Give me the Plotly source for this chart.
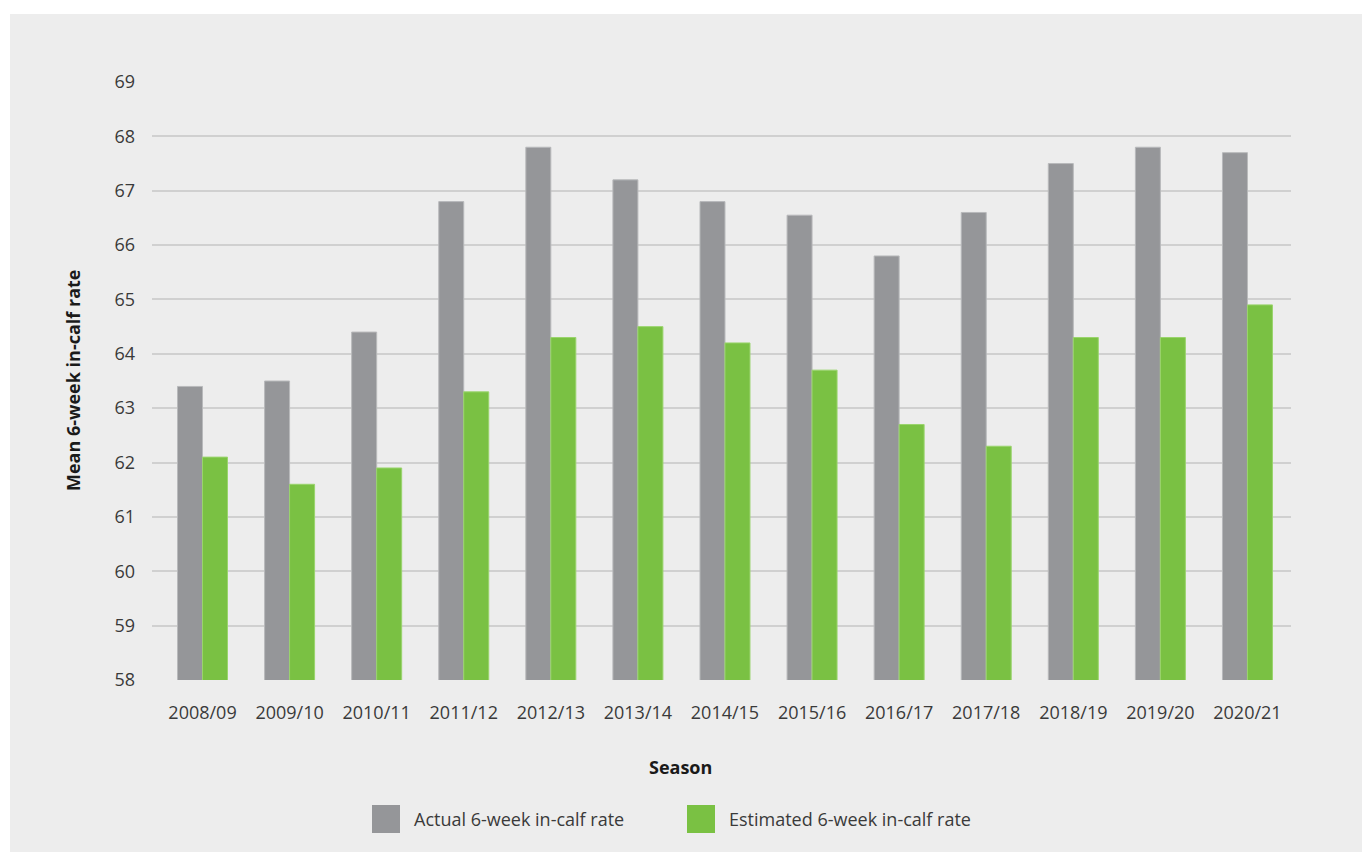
import plotly.graph_objects as go

seasons = ["2008/09", "2009/10", "2010/11", "2011/12", "2012/13", "2013/14", "2014/15",
           "2015/16", "2016/17", "2017/18", "2018/19", "2019/20", "2020/21"]
actual = [63.4, 63.5, 64.4, 66.8, 67.8, 67.2, 66.8, 66.55, 65.8, 66.6, 67.5, 67.8, 67.7]
estimated = [62.1, 61.6, 61.9, 63.3, 64.3, 64.5, 64.2, 63.7, 62.7, 62.3, 64.3, 64.3, 64.9]
series_names = ["Actual 6-week in-calf rate", "Estimated 6-week in-calf rate"]
y_ticks = list(range(58, 70))

GRAY = "#959699"
GREEN = "#7ac143"
BG = "#ededed"
TXT = "#3a3a3a"
FONT = "Open Sans"

OFF = 8  # page body margin
W, H = 1370 - OFF, 852 - OFF
ML, MR, MT, MB = 152 - OFF, 79, 82 - OFF, 172
PW, PH = W - ML - MR, H - MT - MB


def px_x(x):
    # screen x -> paper
    return (x - OFF - ML) / PW


def px_y(y):
    # screen y -> paper
    return (H - MB - (y - OFF)) / PH


fig = go.Figure()
fig.add_trace(go.Bar(x=seasons, y=actual, name=series_names[0], showlegend=False,
                     marker=dict(color=GRAY, line=dict(color="#b8b9bb", width=1))))
fig.add_trace(go.Bar(x=seasons, y=estimated, name=series_names[1], showlegend=False,
                     marker=dict(color=GREEN, line=dict(color="#9ad46c", width=1))))

shapes = [
    # white page margins outside the grey panel
    dict(type="rect", xref="paper", yref="paper", x0=px_x(0), x1=px_x(10), y0=px_y(900), y1=px_y(0),
         fillcolor="white", line=dict(width=0), layer="above"),
    dict(type="rect", xref="paper", yref="paper", x0=px_x(0), x1=px_x(1400), y0=px_y(14), y1=px_y(0),
         fillcolor="white", line=dict(width=0), layer="above"),
    # legend swatches
    dict(type="rect", xref="paper", yref="paper", x0=px_x(372), x1=px_x(400), y0=px_y(833), y1=px_y(805),
         fillcolor=GRAY, line=dict(width=0)),
    dict(type="rect", xref="paper", yref="paper", x0=px_x(687), x1=px_x(715), y0=px_y(833), y1=px_y(805),
         fillcolor=GREEN, line=dict(width=0)),
]

annotations = [
    dict(text="<b>Mean 6-week in-calf rate</b>", xref="paper", yref="paper", x=px_x(73), y=px_y(381),
         textangle=-90, showarrow=False, xanchor="center", yanchor="middle",
         font=dict(family=FONT, size=18, color="#1a1a1a")),
    dict(text="<b>Season</b>", xref="paper", yref="paper", x=px_x(680), y=px_y(767),
         showarrow=False, xanchor="center", yanchor="middle",
         font=dict(family=FONT, size=18, color="#1a1a1a")),
    dict(text=series_names[0], xref="paper", yref="paper", x=px_x(412), y=px_y(819),
         showarrow=False, xanchor="left", yanchor="middle",
         font=dict(family=FONT, size=18, color=TXT)),
    dict(text=series_names[1], xref="paper", yref="paper", x=px_x(727), y=px_y(819),
         showarrow=False, xanchor="left", yanchor="middle",
         font=dict(family=FONT, size=18, color=TXT)),
]

fig.update_layout(
    width=W, height=H,
    margin=dict(l=ML, r=MR, t=MT, b=MB, pad=0),
    paper_bgcolor=BG, plot_bgcolor=BG,
    barmode="group", bargap=0.426, bargroupgap=0,
    font=dict(family=FONT, size=18, color=TXT),
    shapes=shapes, annotations=annotations,
    showlegend=False,
)
fig.update_xaxes(type="category", range=[-0.58, 12.5], showgrid=False, showline=False,
                 ticks="", ticklabelstandoff=20, tickfont=dict(family=FONT, size=18, color=TXT))
fig.update_yaxes(range=[58, 69], tickvals=y_ticks, showgrid=True, gridcolor="#d0d0d0", gridwidth=2,
                 zeroline=False, showline=False, ticks="", ticklabelstandoff=16,
                 tickfont=dict(family=FONT, size=18, color=TXT))

fig.write_html("out.html")
